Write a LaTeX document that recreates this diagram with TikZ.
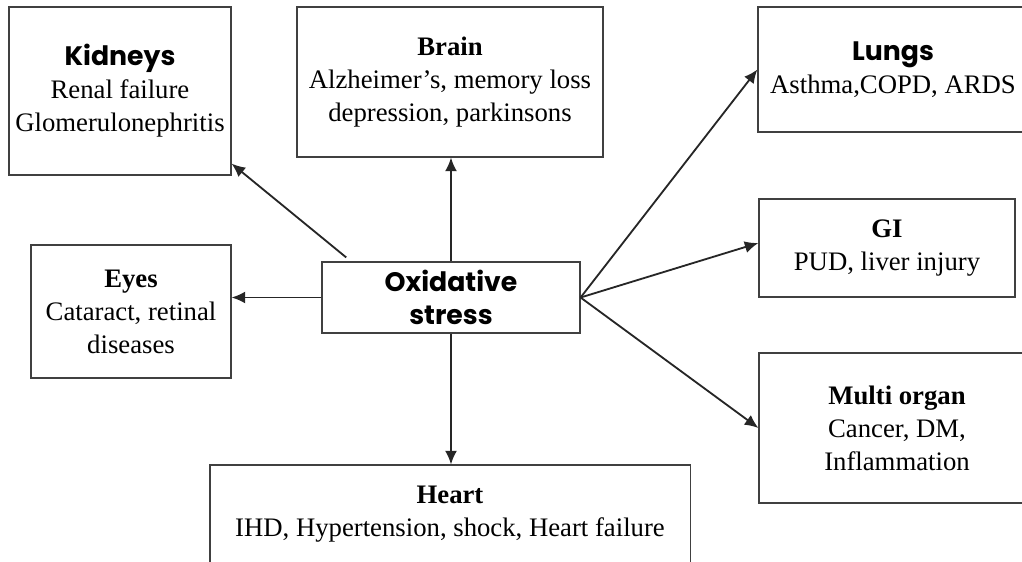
\documentclass[tikz,border=0pt]{standalone}
\usepackage{fontspec}
\setmainfont{Liberation Serif}
\newfontfamily\gothic{Poppins}
\usetikzlibrary{arrows.meta,positioning}

\begin{document}
\begin{tikzpicture}[
        x=0.025cm, y=-0.025cm,
        box/.style={
            rectangle,
            draw=black!75,
            line width=0.8pt,
            align=center,
            inner sep=0pt,
            font=\fontsize{19}{23.5}\selectfont
        },
        arrow/.style={-{Latex[length=3.4mm, width=3mm]}, line width=1.3pt, draw=black!85}
    ]
    \useasboundingbox (0,0) rectangle (1022,561);
    \clip (0,0) rectangle (1022,561);

    \node[box, minimum width=6.45cm, minimum height=1.775cm] (stress) at (451,297.5) {{\gothic\bfseries Oxidative}\\{\gothic\bfseries stress}};

    \node[box, minimum width=5.55cm, minimum height=4.2cm] (kidneys) at (120,91) {{\gothic\bfseries Kidneys}\\Renal failure\\Glomerulonephritis};
    \node[box, minimum width=7.65cm, minimum height=3.75cm] (brain) at (450,82) {\textbf{Brain}\\Alzheimer's, memory loss\\depression, parkinsons};
    \node[box, minimum width=6.75cm, minimum height=3.125cm] (lungs) at (893,69.5) {{\gothic\bfseries Lungs}\\Asthma,COPD, ARDS};
    \node[box, minimum width=5.0cm, minimum height=3.325cm] (eyes) at (131,311.5) {\textbf{Eyes}\\Cataract, retinal\\diseases};
    \node[box, minimum width=6.4cm, minimum height=2.45cm] (gi) at (887,248) {\textbf{GI}\\PUD, liver injury};
    \node[box, minimum width=6.9cm, minimum height=3.75cm] (multi) at (897,428) {\textbf{Multi organ}\\Cancer, DM,\\Inflammation};
    \node[box, minimum width=12cm, minimum height=2.45cm] (heart) at (450,514) {\textbf{Heart}\\IHD, Hypertension, shock, Heart failure};

    \draw[arrow] ([xshift=0.62cm, yshift=0.1cm]stress.north west) -- ([yshift=0.3cm]kidneys.south east);
    \draw[arrow] (stress.north) -- (stress.north |- brain.south);
    \draw[arrow] (stress.west) -- (stress.west -| eyes.east);
    \draw[arrow] (stress.south) -- (stress.south |- heart.north);
    \draw[arrow] (stress.east) -- (lungs.west);
    \draw[arrow] (stress.east) -- ([yshift=0.125cm]gi.west);
    \draw[arrow] (stress.east) -- (multi.west);
\end{tikzpicture}
\end{document}
